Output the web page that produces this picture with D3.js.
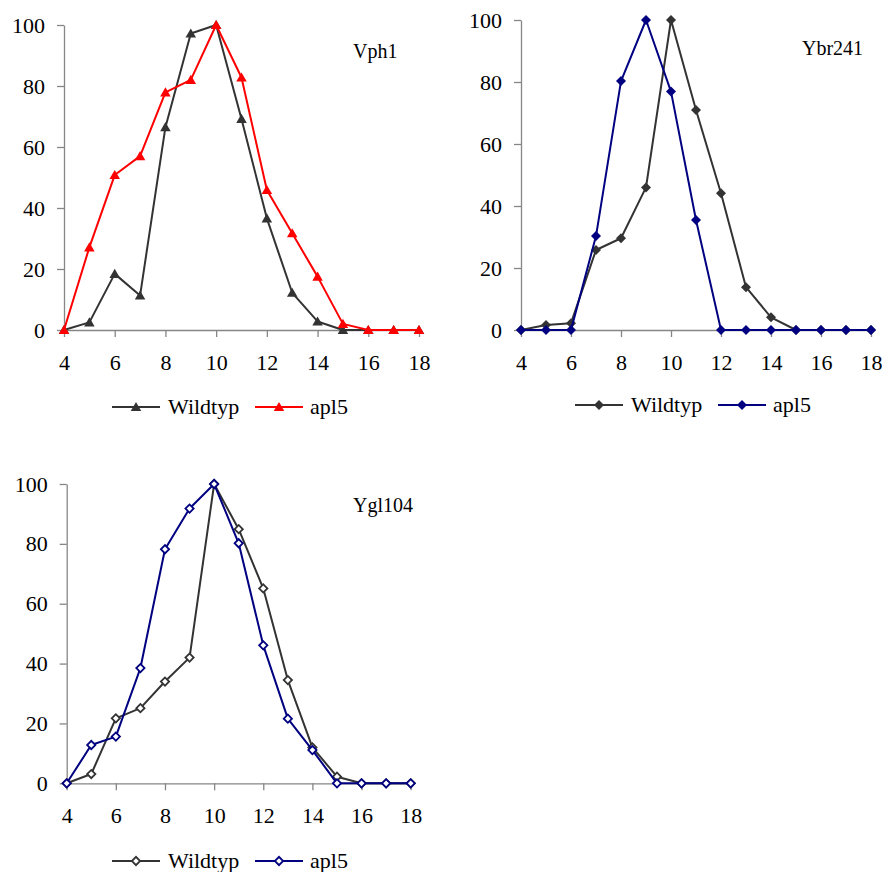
<!DOCTYPE html>
<html>
<head>
<meta charset="utf-8">
<script src="https://cdn.jsdelivr.net/npm/d3@7"></script>
<style>
  html, body { margin: 0; padding: 0; background: #fff; }
  svg { display: block; }
  svg text { font-family: "Liberation Serif", "Times New Roman", Times, serif; }
</style>
</head>
<body>
<svg id="chart" width="882" height="872"></svg>
<script>
// ---------- data ----------
const fractions = [4, 5, 6, 7, 8, 9, 10, 11, 12, 13, 14, 15, 16, 17, 18];
const xTickValues = [4, 6, 8, 10, 12, 14, 16, 18];
const yTickValues = [0, 20, 40, 60, 80, 100];
const seriesNames = ["Wildtyp", "apl5"];
const panelTitles = ["Vph1", "Ybr241", "Ygl104"];

const vph1Wildtyp = [0, 2.5, 18.4, 11.3, 66.5, 97.2, 100, 69.2, 36.6, 12.2, 2.8, 0, 0, 0, 0];
const vph1Apl5    = [0, 27.1, 50.8, 57, 77.9, 82, 100, 82.8, 45.9, 31.7, 17.5, 2, 0, 0, 0];

const ybr241Wildtyp = [0, 1.6, 2.2, 25.8, 29.6, 46, 100, 71, 44.1, 13.8, 4.1, 0, 0, 0, 0];
const ybr241Apl5    = [0, 0, 0, 30.3, 80.3, 100, 76.9, 35.5, 0, 0, 0, 0, 0, 0, 0];

const ygl104Wildtyp = [0, 3.1, 21.7, 25.1, 34, 42, 100, 84.9, 65.1, 34.5, 12, 2.2, 0, 0, 0];
const ygl104Apl5    = [0, 12.8, 15.6, 38.5, 78.2, 91.8, 100, 80.2, 46.1, 21.6, 11.1, 0, 0, 0, 0];

// ---------- layout / style ----------
const FONT = '"Liberation Serif", "Times New Roman", Times, serif';
const panels = [
  { title: panelTitles[0], series: [vph1Wildtyp, vph1Apl5],
    x0: 64, x1: 419, yTop: 25, yBot: 330, titleX: 353, titleY: 58,
    legX: 112, legY: 407, colors: ["#333333", "#ff0000"], marker: "triangle" },
  { title: panelTitles[1], series: [ybr241Wildtyp, ybr241Apl5],
    x0: 521, x1: 871, yTop: 20, yBot: 330, titleX: 802, titleY: 55,
    legX: 575, legY: 405, colors: ["#333333", "#000080"], marker: "diamond" },
  { title: panelTitles[2], series: [ygl104Wildtyp, ygl104Apl5],
    x0: 66.7, x1: 410.7, yTop: 484, yBot: 783.3, titleX: 353, titleY: 512,
    legX: 112, legY: 861, colors: ["#333333", "#000080"], marker: "openDiamond" }
];

const svg = d3.select("#chart");
const axisColor = "#868686";

function markerPath(type) {
  if (type === "triangle") return d3.symbol().type(d3.symbolTriangle).size(48)();
  if (type === "diamond") return d3.symbol().type(d3.symbolSquare).size(50)();
  return d3.symbol().type(d3.symbolSquare).size(34)();
}

function drawMarker(sel, type, color) {
  const p = sel.append("path").attr("d", markerPath(type));
  if (type === "triangle") {
    p.attr("fill", color).attr("transform", "translate(0,1)");
  } else if (type === "diamond") {
    p.attr("fill", color).attr("transform", "rotate(45)");
  } else {
    p.attr("fill", "#fff").attr("stroke", color).attr("stroke-width", 1.8).attr("transform", "rotate(45)");
  }
  return p;
}

panels.forEach(P => {
  const x = d3.scaleLinear().domain([4, 18]).range([P.x0, P.x1]);
  const y = d3.scaleLinear().domain([0, 100]).range([P.yBot, P.yTop]);
  const g = svg.append("g");

  // y axis
  const ya = g.append("g").attr("transform", `translate(${P.x0},0)`)
    .call(d3.axisLeft(y).tickValues(yTickValues).tickSizeInner(7).tickSizeOuter(0).tickPadding(12));
  // x axis
  const xa = g.append("g").attr("transform", `translate(0,${P.yBot})`)
    .call(d3.axisBottom(x).tickValues(xTickValues).tickSizeInner(7).tickSizeOuter(0).tickPadding(17.5));
  [ya, xa].forEach(a => {
    a.attr("font-family", FONT).attr("font-size", 22);
    a.select(".domain").attr("stroke", axisColor).attr("stroke-width", 1.3);
    a.selectAll(".tick line").attr("stroke", axisColor).attr("stroke-width", 1.3);
    a.selectAll(".tick text").attr("fill", "#000")
      .attr("font-family", FONT).attr("font-size", 22);
  });

  // series
  const line = d3.line().x((d, i) => x(fractions[i])).y(d => y(d));
  P.series.forEach((vals, si) => {
    const sg = g.append("g");
    sg.append("path").datum(vals).attr("d", line)
      .attr("fill", "none").attr("stroke", P.colors[si]).attr("stroke-width", 2)
      .attr("stroke-linejoin", "round");
    vals.forEach((v, i) => {
      const m = sg.append("g").attr("transform", `translate(${x(fractions[i])},${y(v)})`);
      drawMarker(m, P.marker, P.colors[si]);
    });
  });

  // title
  g.append("text").attr("x", P.titleX).attr("y", P.titleY)
    .attr("font-family", FONT).attr("font-size", 20).attr("fill", "#000").text(P.title);

  // legend
  const lg = g.append("g").attr("transform", `translate(${P.legX},${P.legY})`);
  const offs = [0, 143];
  seriesNames.forEach((name, si) => {
    const item = lg.append("g").attr("transform", `translate(${offs[si]},0)`);
    item.append("line").attr("x1", 0).attr("x2", 48).attr("y1", 0).attr("y2", 0)
      .attr("stroke", P.colors[si]).attr("stroke-width", 2);
    const m = item.append("g").attr("transform", "translate(24,0)");
    drawMarker(m, P.marker, P.colors[si]);
    item.append("text").attr("x", si === 0 ? 56 : 55).attr("y", 7)
      .attr("font-family", FONT).attr("font-size", 22).attr("fill", "#000").text(name);
  });
});
</script>
</body>
</html>
